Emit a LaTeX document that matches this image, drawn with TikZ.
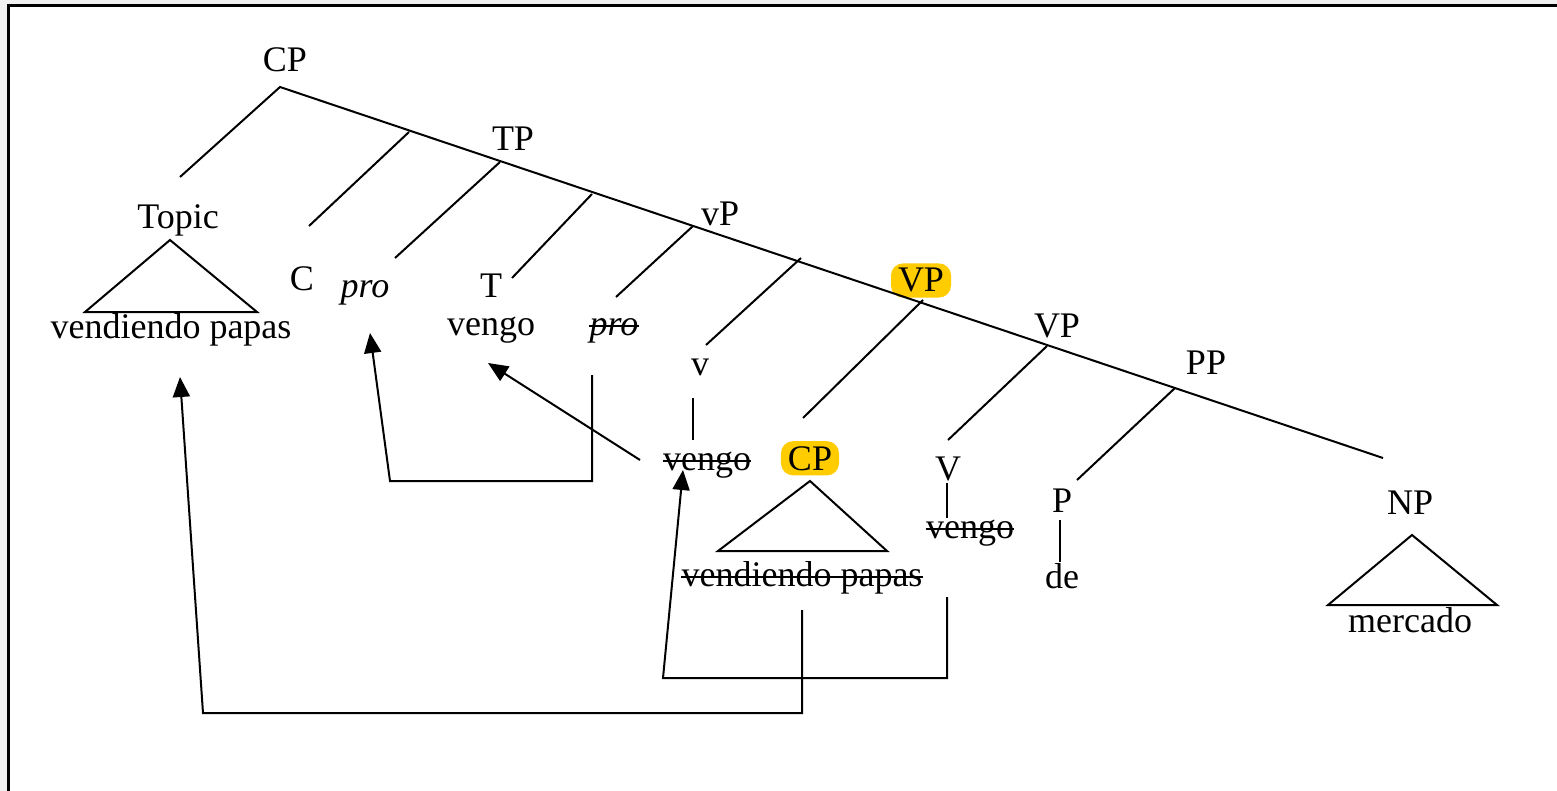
\documentclass[tikz,border=0pt]{standalone}
\usepackage{fontspec}
\setmainfont{Liberation Serif}
\usetikzlibrary{arrows.meta}
\definecolor{hl}{RGB}{255,204,0}
\definecolor{bgray}{RGB}{240,240,240}
\begin{document}
\begin{tikzpicture}[x=0.5pt,y=-0.5pt,
  lbl/.style={anchor=base,inner sep=0pt,font=\fontsize{18}{20}\selectfont},
  hlbox/.style={lbl,fill=hl,rounded corners=6pt,inner xsep=3.5pt,inner ysep=2.5pt},
  br/.style={line width=1pt},
  strk/.style={line width=0.9pt},
  mv/.style={line width=1pt,-{Triangle[length=10pt,width=8.5pt]}}]
\useasboundingbox (0,0) rectangle (1557,791);
\fill[bgray] (0,0) rectangle (1557,791);
\fill[white] (8,6) rectangle (1557,791);
\draw[line width=1.5pt] (8,791) -- (8,6) -- (1557,6);
% labels
\node[lbl] (cp) at (285,72) {CP};
\node[lbl] (tp) at (513,151) {TP};
\node[lbl] (topic) at (178,228) {Topic};
\node[lbl] (vps) at (720,226) {vP};
\node[lbl] (c) at (302,290) {C};
\node[lbl] (pro) at (365,297) {\textit{pro}};
\node[lbl] (t) at (491,298) {T};
\node[lbl] (tvengo) at (491,335) {vengo};
\node[lbl] (prot) at (614,335) {\textit{pro}};
\node[lbl] (topvp) at (171,338) {vendiendo papas};
\node[hlbox] (vphl) at (921,292) {VP};
\node[lbl] (vp) at (1057,337) {VP};
\node[lbl] (pp) at (1206,374) {PP};
\node[lbl] (v) at (700,375) {v};
\node[lbl] (vvengo) at (707,470) {vengo};
\node[hlbox] (cphl) at (810,470) {CP};
\node[lbl] (V) at (948,480) {V};
\node[lbl] (Vvengo) at (970,538) {vengo};
\node[lbl] (cpvp) at (802,586) {vendiendo papas};
\node[lbl] (p) at (1062,512) {P};
\node[lbl] (de) at (1062,588) {de};
\node[lbl] (np) at (1410,514) {NP};
\node[lbl] (merc) at (1410,632) {mercado};
% strike-throughs
\foreach \n in {prot,vvengo,Vvengo,cpvp}
  \draw[strk] ([yshift=4.5pt]\n.base west) -- ([yshift=4.5pt]\n.base east);
% spine coordinates
\coordinate (sCP) at (280,87);
\coordinate (sC) at (409,132);
\coordinate (sTP) at (500,162);
\coordinate (sT) at (592,194);
\coordinate (svP) at (693,226);
\coordinate (sv) at (801,258);
\coordinate (sVPh) at (923,300);
\coordinate (sVP) at (1047,346);
\coordinate (sPP) at (1175,388);
\coordinate (sNP) at (1383,458);
% branch end coordinates
\coordinate (eTopic) at (180,177);
\coordinate (eC) at (309,226);
\coordinate (ePro) at (395,258);
\coordinate (eT) at (512,278);
\coordinate (eProt) at (616,297);
\coordinate (ev) at (706,345);
\coordinate (eCP) at (803,418);
\coordinate (eV) at (948,440);
\coordinate (eP) at (1077,480);
\draw[br] (eTopic) -- (sCP) -- (sNP);
\draw[br] (sC) -- (eC);
\draw[br] (sTP) -- (ePro);
\draw[br] (sT) -- (eT);
\draw[br] (svP) -- (eProt);
\draw[br] (sv) -- (ev);
\draw[br] (sVPh) -- (eCP);
\draw[br] (sVP) -- (eV);
\draw[br] (sPP) -- (eP);
% vertical unary lines
\coordinate (vA) at (693,398); \coordinate (vB) at (693,440);
\draw[br] (vA) -- (vB);
\coordinate (VA) at (947,483); \coordinate (VB) at (947,518);
\draw[br] (VA) -- (VB);
\coordinate (PA) at (1060,520); \coordinate (PB) at (1060,562);
\draw[br] (PA) -- (PB);
% triangles
\coordinate (t1a) at (170,240); \coordinate (t1l) at (85,312); \coordinate (t1r) at (257,312);
\draw[br] (t1a) -- (t1l) -- (t1r) -- cycle;
\coordinate (t2a) at (810,481); \coordinate (t2l) at (718,551); \coordinate (t2r) at (887,551);
\draw[br] (t2a) -- (t2l) -- (t2r) -- cycle;
\coordinate (t3a) at (1412,535); \coordinate (t3l) at (1328,605); \coordinate (t3r) at (1497,605);
\draw[br] (t3a) -- (t3l) -- (t3r) -- cycle;
% movement arrows
\coordinate (m1s) at (592,375); \coordinate (m1a) at (592,481); \coordinate (m1b) at (390,481);
\coordinate (m1t) at (370,333);
\draw[mv] (m1s) -- (m1a) -- (m1b) -- (m1t);
\coordinate (m2s) at (640,460); \coordinate (m2t) at (488,363);
\draw[mv] (m2s) -- (m2t);
\coordinate (m3s) at (947,597); \coordinate (m3a) at (947,678); \coordinate (m3b) at (663,678);
\coordinate (m3t) at (683,470);
\draw[mv] (m3s) -- (m3a) -- (m3b) -- (m3t);
\coordinate (m4s) at (802,610); \coordinate (m4a) at (802,713); \coordinate (m4b) at (203,713);
\coordinate (m4t) at (180,377);
\draw[mv] (m4s) -- (m4a) -- (m4b) -- (m4t);
\end{tikzpicture}
\end{document}
